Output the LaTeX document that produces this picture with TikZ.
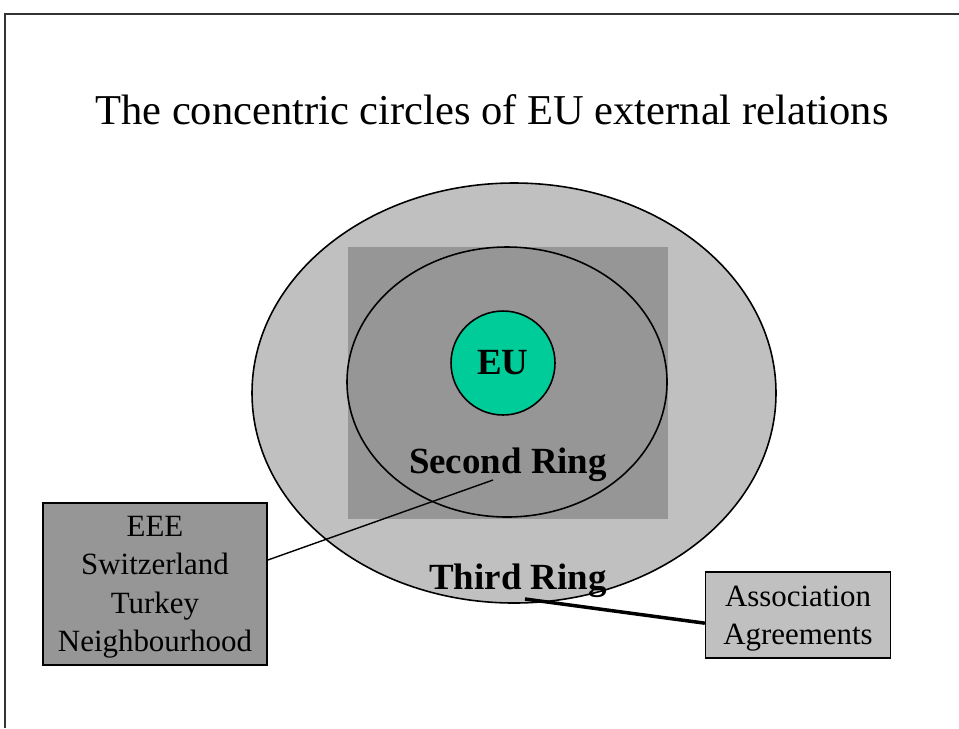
\documentclass[tikz,border=0pt]{standalone}
\usepackage{fontspec}
\setmainfont{Liberation Serif}
\definecolor{ringlight}{HTML}{C0C0C0}
\definecolor{ringdark}{HTML}{969696}
\definecolor{eugreen}{HTML}{00CC99}
\tikzset{
  ringlabel/.style={font=\fontsize{21}{25}\selectfont\bfseries, inner sep=0pt},
  partnerbox/.style={draw, line width=0.8pt, align=center, inner sep=2pt, text depth=0pt,
    font=\fontsize{17.6}{21.8}\selectfont},
  ringline/.style={line width=0.9pt}
}
\begin{document}
\begin{tikzpicture}[x=0.02cm, y=-0.02cm]
    \useasboundingbox (0,0) rectangle (959,728);
    \draw[line width=1.2pt, black!80] (959,14) -- (5,14) -- (5,728);
    \node[anchor=base, font=\fontsize{24.2}{28}\selectfont] (title) at (492,124) {The concentric circles of EU external relations};
    \draw[ringline, fill=ringlight] (514,393) ellipse [x radius=262, y radius=210];
    \fill[ringdark] (348,247) rectangle (668,519);
    \draw[ringline] (507,382) ellipse [x radius=160, y radius=135];
    \node[circle, draw, ringline, fill=eugreen, minimum size=2.08cm, font=\fontsize{21}{25}\selectfont\bfseries] (eu) at (503,363) {EU};
    \node[ringlabel, anchor=base] (second) at (508,473) {Second Ring};
    \node[ringlabel, anchor=base] (third) at (518,589) {Third Ring};
    \coordinate (secondtip) at (493,480);
    \coordinate (thirdtip) at (525,599);
    \node[partnerbox, fill=ringdark, minimum width=4.48cm, minimum height=3.24cm] (neighbours) at (155,584) {EEE\\Switzerland\\Turkey\\Neighbourhood};
    \node[partnerbox, fill=ringlight, minimum width=3.7cm, minimum height=1.72cm] (assoc) at (798,615) {Association\\Agreements};
    \draw[line width=0.8pt] (secondtip) -- (neighbours.12);
    \draw[line width=2pt] (thirdtip) -- (assoc.185);
\end{tikzpicture}
\end{document}
